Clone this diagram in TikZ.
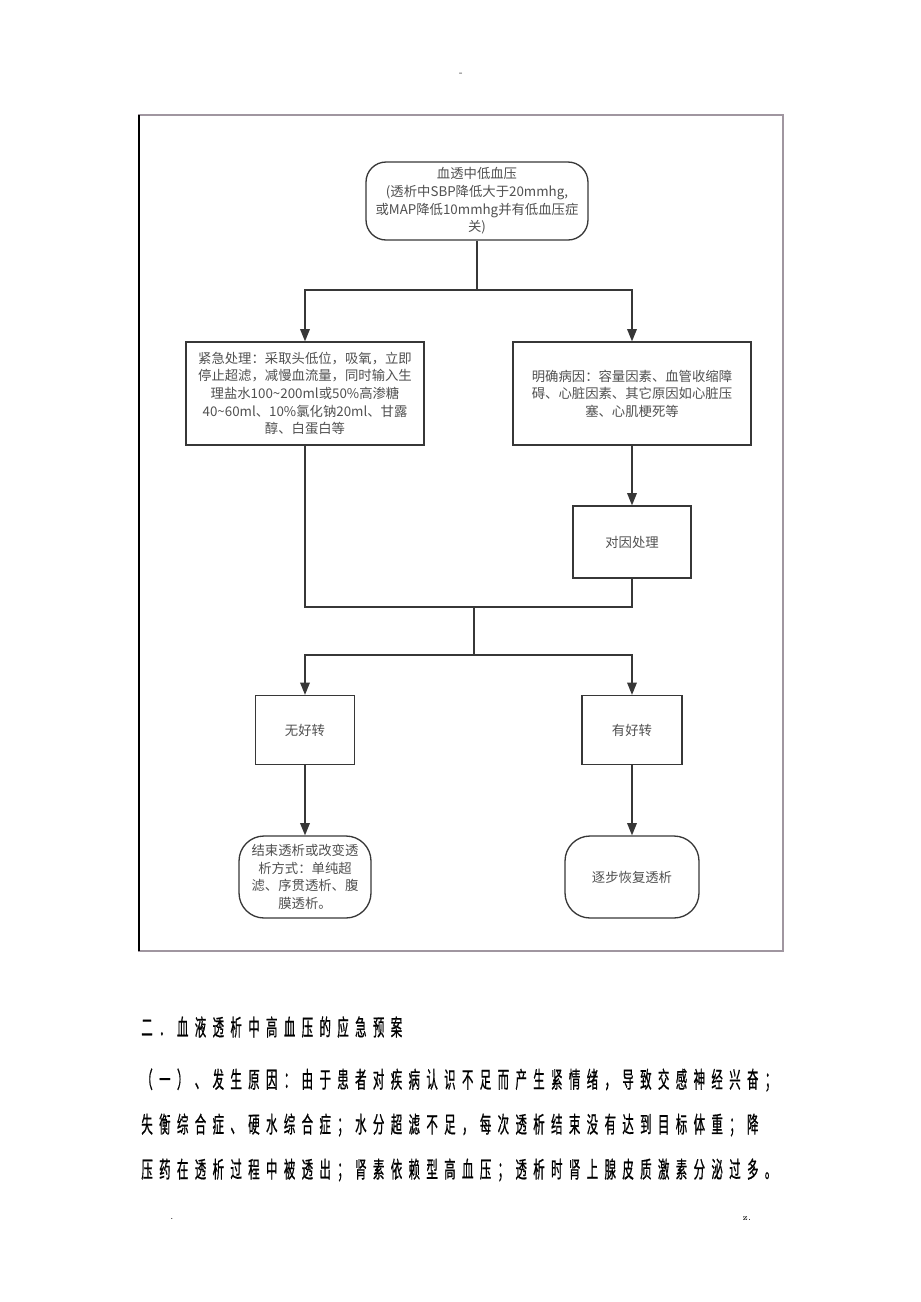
\documentclass[tikz,border=0pt]{standalone}
\usepackage{fontspec}
\newfontfamily\cjk{Noto Sans CJK SC}
\newfontfamily\cjkbody[FakeStretch=0.5,LetterSpace=28,FakeBold=0.6]{Noto Sans CJK SC}
\usetikzlibrary{arrows.meta, positioning}
\definecolor{linegray}{RGB}{55,55,55}
\definecolor{textgray}{RGB}{80,80,80}
\definecolor{framegray}{RGB}{160,150,160}

\begin{document}
\begin{tikzpicture}[x=0.02cm, y=-0.02cm,
    box/.style={draw=linegray, line width=.75pt, align=center, text=textgray, inner sep=0pt,
      font=\cjk\fontsize{7.6}{10}\selectfont},
    term/.style={box, rounded corners=.5cm},
    ln/.style={draw=linegray, line width=.75pt},
    arr/.style={ln, -{Triangle[length=7pt,width=5.5pt]}}]
    \useasboundingbox (0,0) rectangle (920,1302);

    % 页眉的小横线
    \node[font=\tiny, text=linegray] (dash) at (461,74) {-};

    % 外框
    \draw[framegray, line width=.6pt] (139,115) rectangle (783,951);
    \draw[black, line width=.8pt] (139,115) -- (139,951);

    % 起点：血透中低血压
    \node[box, rounded corners=.4cm, minimum width=4.44cm, minimum height=1.56cm] (start) at (477,201)
      {血透中低血压\\(透析中SBP降低大于20mmhg,\\或MAP降低10mmhg并有低血压症\\关)};

    % 第一层：紧急处理 / 明确病因
    \node[box, minimum width=4.76cm, minimum height=2.06cm] (urgent) at (305,393.5)
      {紧急处理：采取头低位，吸氧，立即\\停止超滤，减慢血流量，同时输入生\\理盐水100\textasciitilde200ml或50\%高渗糖\\40\textasciitilde60ml、10\%氯化钠20ml、甘露\\醇、白蛋白等};
    \node[box, minimum width=4.76cm, minimum height=2.06cm] (cause) at (632,393.5)
      {明确病因：容量因素、血管收缩障\\碍、心脏因素、其它原因如心脏压\\塞、心肌梗死等};
    \node[box, minimum width=2.36cm, minimum height=1.44cm] (treat) at (632,542) {对因处理};

    % 第二层：无好转 / 有好转
    \node[box, minimum width=1.98cm, minimum height=1.38cm] (nobetter) at (305,730) {无好转};
    \node[box, minimum width=2.0cm, minimum height=1.38cm] (better) at (632,730) {有好转};

    % 终点
    \node[term, minimum width=2.64cm, minimum height=1.64cm] (stop) at (305,877)
      {结束透析或改变透\\析方式：单纯超\\滤、序贯透析、腹\\膜透析。};
    \node[term, minimum width=2.68cm, minimum height=1.64cm] (resume) at (632,877) {逐步恢复透析};

    % 分支点
    \coordinate (split1) at (477,290);
    \coordinate (merge) at (474,607);
    \coordinate (split2) at (474,655);

    % 连线
    \draw[ln] (start.south) -- (split1);
    \draw[arr] (split1) -| (urgent.north);
    \draw[arr] (split1) -| (cause.north);
    \draw[arr] (cause.south) -- (treat.north);
    \draw[ln] (urgent.south) |- (merge);
    \draw[ln] (treat.south) |- (merge);
    \draw[ln] (merge) -- (split2);
    \draw[arr] (split2) -| (nobetter.north);
    \draw[arr] (split2) -| (better.north);
    \draw[arr] (nobetter.south) -- (stop.north);
    \draw[arr] (better.south) -- (resume.north);

    % 正文
    \node[anchor=west, inner sep=0pt, font=\cjkbody\fontsize{13}{15}\selectfont] (heading) at (141,1027)
      {二．血液透析中高血压的应急预案};
    \node[anchor=west, inner sep=0pt, font=\cjkbody\fontsize{13}{15}\selectfont] (para1) at (141,1080)
      {（一）、发生原因：由于患者对疾病认识不足而产生紧情绪，导致交感神经兴奋；};
    \node[anchor=west, inner sep=0pt, font=\cjkbody\fontsize{13}{15}\selectfont] (para2) at (141,1125)
      {失衡综合症、硬水综合症；水分超滤不足，每次透析结束没有达到目标体重；降};
    \node[anchor=west, inner sep=0pt, font=\cjkbody\fontsize{13}{15}\selectfont] (para3) at (141,1170)
      {压药在透析过程中被透出；肾素依赖型高血压；透析时肾上腺皮质激素分泌过多。};

    % 页脚
    \node[font=\tiny] (footl) at (172,1219) {.};
    \node[font=\tiny] (footr) at (747,1219) {z.};
\end{tikzpicture}
\end{document}
